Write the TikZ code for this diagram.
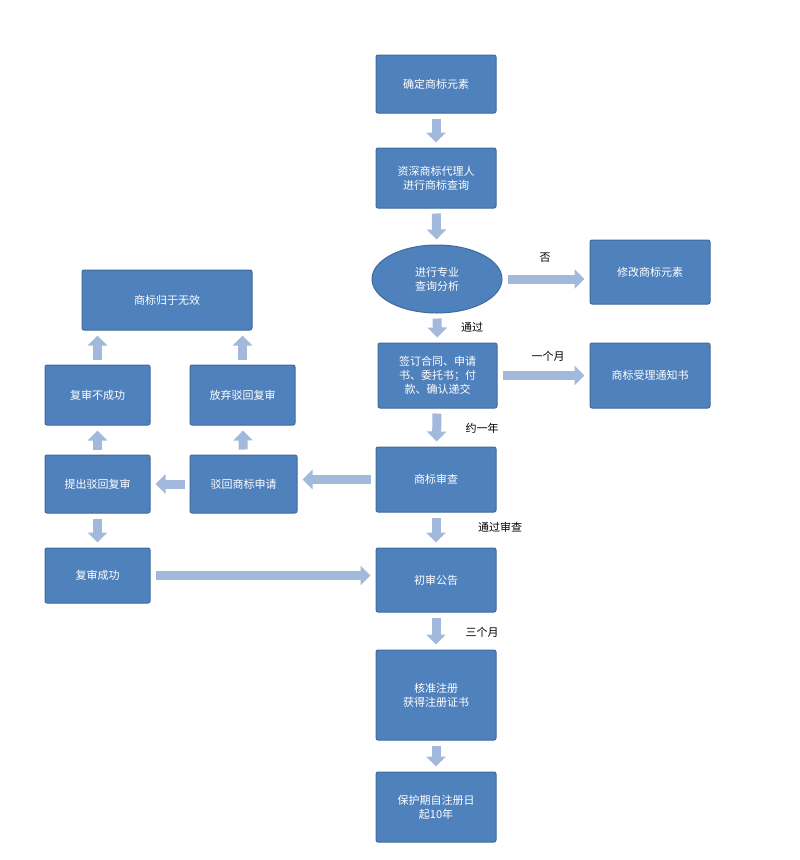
\documentclass[tikz,border=0pt]{standalone}
\usepackage{fontspec}
\setmainfont{Noto Sans CJK SC}
\usetikzlibrary{shapes.geometric,arrows.meta}
\definecolor{boxc}{HTML}{4F81BD}
\definecolor{edgec}{HTML}{3F6A9E}
\definecolor{arrc}{HTML}{A3B9DC}
\begin{document}
\begin{tikzpicture}[x=1pt,y=-1pt,
 box/.style={draw=edgec,fill=boxc,line width=1pt,rounded corners=2pt,text=white,font=\fontsize{11}{14}\selectfont,align=center,inner sep=0pt},
 arr/.style={draw=arrc,line width=9pt,-{Triangle[width=19pt,length=10pt]},shorten <=5pt,shorten >=5pt},
 lab/.style={font=\fontsize{11}{13}\selectfont,text=black}]
\useasboundingbox[fill=white] (0,0) rectangle (800,860);
\newcommand{\bx}[6]{\node[box,minimum width=#4-#2,minimum height=#5-#3] (#1) at ({(#2+#4)/2},{(#3+#5)/2}) {#6};}
\bx{a}{376}{55}{496}{113}{确定商标元素}
\bx{b}{376}{148}{496}{208}{资深商标代理人\\进行商标查询}
\node[ellipse,draw=edgec,fill=boxc,line width=1pt,text=white,font=\fontsize{11}{14}\selectfont,align=center,minimum width=130pt,minimum height=68pt,inner sep=0pt] (c) at (437,279) {进行专业\\查询分析};
\bx{m}{590}{240}{710}{304}{修改商标元素}
\bx{d}{378}{343}{497}{408}{签订合同、申请\\书、委托书；付\\款、确认递交}
\bx{n}{590}{343}{710}{408}{商标受理通知书}
\bx{e}{376}{447}{496}{512}{商标审查}
\bx{f}{376}{548}{496}{612}{初审公告}
\bx{g}{376}{650}{496}{740}{核准注册\\获得注册证书}
\bx{h}{376}{772}{496}{842}{保护期自注册日\\起10年}
\bx{w}{82}{270}{252}{330}{商标归于无效}
\bx{p}{45}{365}{150}{425}{复审不成功}
\bx{q}{190}{365}{295}{425}{放弃驳回复审}
\bx{r}{45}{455}{150}{513}{提出驳回复审}
\bx{s}{190}{455}{297}{513}{驳回商标申请}
\bx{t}{45}{548}{150}{603}{复审成功}
\draw[arr] (a) -- (b);
\draw[arr] (b) -- (c);
\draw[arr] (c) -- (d);
\draw[arr] (d) -- (e);
\draw[arr] (e) -- (f);
\draw[arr] (f) -- (g);
\draw[arr] (g) -- (h);
\draw[arr] (c.east) -- (m.west|-c.east);
\draw[arr] (d.east) -- (n.west|-d.east);
\draw[arr] (e.west) -- (s.east|-e.west);
\draw[arr] (s) -- (r);
\draw[arr] (t.east) -- (f.west|-t.east);
\draw[arr] (r) -- (p);
\draw[arr] (s) -- (q);
\draw[arr] (r) -- (t);
\draw[arr] (p.north) -- (p.north|-w.south);
\draw[arr] (q.north) -- (q.north|-w.south);
\node[lab] (l1) at (472,327) {通过};
\node[lab] (l2) at (482,428) {约一年};
\node[lab] (l3) at (500,527) {通过审查};
\node[lab] (l4) at (482,632) {三个月};
\node[lab] (l5) at (545,258) {否};
\node[lab] (l6) at (548,356) {一个月};
\end{tikzpicture}
\end{document}
